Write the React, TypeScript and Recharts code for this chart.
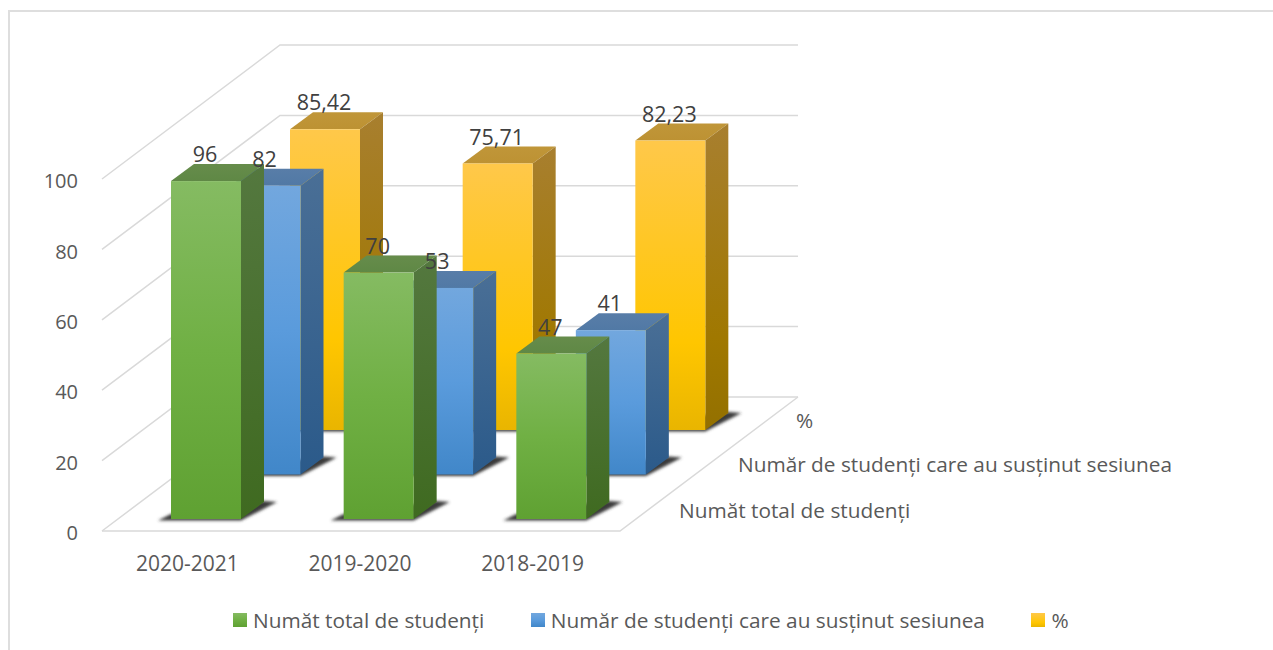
import { Bar, BarChart, CartesianGrid, LabelList, Legend, XAxis, YAxis } from "recharts";

const years = ["2020-2021", "2019-2020", "2018-2019"];
const totalStudents = [96, 70, 47];
const sessionStudents = [82, 53, 41];
const percent = [85.42, 75.71, 82.23];
const seriesNames = [
  "Număt total de studenți",
  "Număr de studenți care au susținut sesiunea",
  "%",
];

const data = years.map((year, i) => ({
  year,
  total: totalStudents[i],
  session: sessionStudents[i],
  percent: percent[i],
}));

const FONT = "'Open Sans', sans-serif";
const TEXT_SIZE = 20.8;

// fake 3d: how far the whole floor runs back, and the depth of one bar
const WALL_DX = 178;
const WALL_DY = 134;
const BAR_DX = 23;
const BAR_DY = 17;
const ROW_DX = 59.5;
const ROW_DY = 44.5;

const rowOffset = (row: number) => ({ dx: 18 + ROW_DX * row, dy: 12 + ROW_DY * row });

function Prism(props: any) {
  const { x, y, width, height, row, id } = props;
  const { dx, dy } = rowOffset(row);
  const left = x + dx;
  const right = left + width;
  const top = y - dy;
  const base = y + height - dy;
  const pts = (list: number[][]) => list.map((p) => p.join(",")).join(" ");
  return (
    <g>
      <polygon
        points={pts([
          [left - 13, base + 1.5],
          [right, base + 1.5],
          [right + BAR_DX + 13, base - BAR_DY],
          [right + BAR_DX, base - BAR_DY - 1],
          [left, base - 5],
        ])}
        fill="#3a3a3a"
        filter="url(#floorShadow)"
      />
      <polygon
        points={pts([[left, top], [left + BAR_DX, top - BAR_DY], [right + BAR_DX, top - BAR_DY], [right, top]])}
        fill={`url(#${id}Top)`}
      />
      <polygon
        points={pts([[right, top], [right + BAR_DX, top - BAR_DY], [right + BAR_DX, base - BAR_DY], [right, base]])}
        fill={`url(#${id}Side)`}
      />
      <rect x={left} y={top} width={width} height={height} fill={`url(#${id}Front)`} />
    </g>
  );
}

const prismShape = (row: number, id: string) => (props: any) => <Prism {...props} row={row} id={id} />;

const valueLabel = (row: number) => (props: any) => {
  const { x, y, width, value } = props;
  const { dx, dy } = rowOffset(row);
  return (
    <text
      x={x + width / 2 + dx - 1}
      y={y - dy - 26.5}
      dy="0.35em"
      textAnchor="middle"
      fill="#404040"
      fontSize={21.5}
      fontFamily={FONT}
    >
      {String(value).replace(".", ",")}
    </text>
  );
};

// one grid line per y tick, running along the side wall and then the back wall
function WallLine(props: any) {
  const { x1, x2, y1, index } = props;
  const isFloor = y1 > 500;
  const backY = y1 - WALL_DY;
  return (
    <g key={`wall-${index}`} fill="none" stroke="#d9d9d9" strokeWidth={1.5}>
      <polyline points={`${x1},${y1} ${x1 + WALL_DX},${backY} ${x2 + WALL_DX},${backY}`} />
      {isFloor && <polyline points={`${x1},${y1} ${x2},${y1} ${x2 + WALL_DX},${backY}`} />}
    </g>
  );
}

function Gradient({ id, stops }: { id: string; stops: [number, string][] }) {
  return (
    <linearGradient id={id} x1="0" y1="0" x2="0" y2="1">
      {stops.map(([o, c]) => (
        <stop key={o} offset={o} stopColor={c} />
      ))}
    </linearGradient>
  );
}

function LegendRow({ payload }: any) {
  const items = [...(payload ?? [])].reverse();
  return (
    <div style={{ display: "flex", paddingLeft: 233, gap: 46.5, alignItems: "center", height: 28 }}>
      {items.map((item: any) => (
        <div key={item.value} style={{ display: "flex", alignItems: "center", gap: 6 }}>
          <svg width={14} height={14}>
            <rect width={14} height={14} fill={item.payload?.fill ?? item.color} />
          </svg>
          <span style={{ fontFamily: FONT, fontSize: TEXT_SIZE, color: "#595959" }}>{item.value}</span>
        </div>
      ))}
    </div>
  );
}

export default function App() {
  return (
    <div style={{ position: "absolute", left: 0, top: 0, width: 1273, height: 650, background: "#fff" }}>
      <div
        style={{
          position: "absolute",
          left: 8,
          top: 10,
          width: 1265,
          height: 640,
          borderLeft: "2px solid #dedede",
          borderTop: "2px solid #dedede",
          boxSizing: "border-box",
        }}
      />
      <BarChart
        width={1273}
        height={650}
        data={data}
        margin={{ top: 151, right: 653, bottom: 89, left: 42 }}
        style={{ position: "absolute", left: 0, top: 0 }}
      >
        <defs>
          <filter id="floorShadow" x="-20%" y="-40%" width="140%" height="180%">
            <feGaussianBlur stdDeviation="1.6" />
          </filter>
          <Gradient id="greenFront" stops={[[0, "#85bb62"], [0.5, "#70b044"], [1, "#5fa132"]]} />
          <Gradient id="greenSide" stops={[[0, "#54783f"], [1, "#3f6a20"]]} />
          <Gradient id="greenTop" stops={[[0, "#668c4b"], [1, "#5f8845"]]} />
          <Gradient id="blueFront" stops={[[0, "#72a7de"], [0.5, "#5a9bdc"], [1, "#4187c9"]]} />
          <Gradient id="blueSide" stops={[[0, "#4a6f96"], [1, "#2b5a8a"]]} />
          <Gradient id="blueTop" stops={[[0, "#587da8"], [1, "#5179a5"]]} />
          <Gradient id="yellowFront" stops={[[0, "#ffc84a"], [0.7, "#ffc600"], [1, "#e9b500"]]} />
          <Gradient id="yellowSide" stops={[[0, "#a87f2f"], [0.7, "#a07800"], [1, "#937000"]]} />
          <Gradient id="yellowTop" stops={[[0, "#c09639"], [1, "#bd9233"]]} />
        </defs>
        <CartesianGrid vertical={false} horizontal={(p: any) => <WallLine {...p} key={p.index} />} />
        <XAxis
          xAxisId={0}
          dataKey="year"
          axisLine={false}
          tickLine={false}
          tickMargin={19}
          tick={{ fill: "#595959", fontSize: 21, fontFamily: FONT, dx: -1 }}
        />
        <XAxis xAxisId={1} dataKey="year" hide />
        <XAxis xAxisId={2} dataKey="year" hide />
        <YAxis
          domain={[0, 100]}
          ticks={[0, 20, 40, 60, 80, 100]}
          axisLine={false}
          tickLine={false}
          width={60}
          tickMargin={18}
          tick={{ fill: "#595959", fontSize: 20, fontFamily: FONT, dy: 2 }}
        />
        <Bar
          xAxisId={2}
          dataKey="percent"
          name={seriesNames[2]}
          fill="url(#yellowFront)"
          barSize={70}
          shape={prismShape(2, "yellow")}
          isAnimationActive={false}
        >
          <LabelList dataKey="percent" content={valueLabel(2)} />
        </Bar>
        <Bar
          xAxisId={1}
          dataKey="session"
          name={seriesNames[1]}
          fill="url(#blueFront)"
          barSize={70}
          shape={prismShape(1, "blue")}
          isAnimationActive={false}
        >
          <LabelList dataKey="session" content={valueLabel(1)} />
        </Bar>
        <Bar
          xAxisId={0}
          dataKey="total"
          name={seriesNames[0]}
          fill="url(#greenFront)"
          barSize={70}
          shape={prismShape(0, "green")}
          isAnimationActive={false}
        >
          <LabelList dataKey="total" content={valueLabel(0)} />
        </Bar>
        <g fontFamily={FONT} fontSize={TEXT_SIZE} fill="#595959">
          <text x={679} y={511} dy="0.35em">{seriesNames[0]}</text>
          <text x={738} y={465} dy="0.35em">{seriesNames[1]}</text>
          <text x={796} y={421} dy="0.35em">{seriesNames[2]}</text>
        </g>
        <Legend
          content={<LegendRow />}
          verticalAlign="top"
          wrapperStyle={{ position: "absolute", left: 0, top: 606, width: 1273 }}
        />
      </BarChart>
    </div>
  );
}
